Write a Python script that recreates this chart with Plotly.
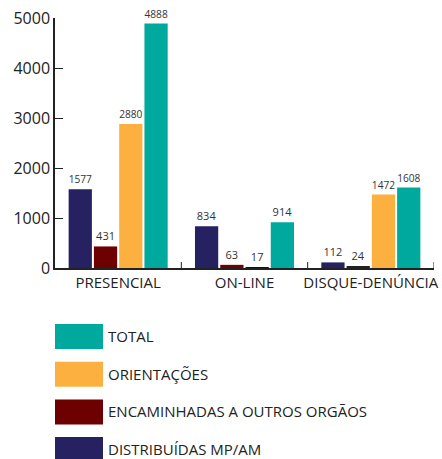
import plotly.graph_objects as go

categories = ["PRESENCIAL", "ON-LINE", "DISQUE-DENÚNCIA"]
series_names = ["DISTRIBUÍDAS MP/AM", "ENCAMINHADAS A OUTROS ORGÃOS", "ORIENTAÇÕES", "TOTAL"]
distribuidas = [1577, 834, 112]
encaminhadas = [431, 63, 24]
orientacoes = [2880, 17, 1472]
total = [4888, 914, 1608]
y_ticks = [0, 1000, 2000, 3000, 4000, 5000]

colors = {
    "DISTRIBUÍDAS MP/AM": ["#262262", "#262262", "#262262"],
    "ENCAMINHADAS A OUTROS ORGÃOS": ["#6D0000", "#6D0000", "#222222"],
    "ORIENTAÇÕES": ["#FBB040", "#111111", "#FBB040"],
    "TOTAL": ["#00A99D", "#00A99D", "#00A99D"],
}
legend_colors = {
    "DISTRIBUÍDAS MP/AM": "#262262",
    "ENCAMINHADAS A OUTROS ORGÃOS": "#6D0000",
    "ORIENTAÇÕES": "#FBB040",
    "TOTAL": "#00A99D",
}
values = [distribuidas, encaminhadas, orientacoes, total]

FONT = "Open Sans, Noto Sans, sans-serif"

fig = go.Figure()
for name, vals in zip(series_names, values):
    fig.add_trace(go.Bar(
        x=categories, y=vals, name=name,
        marker=dict(color=colors[name], line=dict(width=0)),
        text=[str(v) for v in vals], textposition="outside",
        textfont=dict(family=FONT, size=11, color="#333333"),
        cliponaxis=False, showlegend=False,
    ))

# legend drawn as large swatches
legend_order = ["TOTAL", "ORIENTAÇÕES", "ENCAMINHADAS A OUTROS ORGÃOS", "DISTRIBUÍDAS MP/AM"]
shapes = []
annotations = []
for i, name in enumerate(legend_order):
    top = 324 + i * 37.7
    bot = top + 25
    shapes.append(dict(type="rect", xref="paper", yref="paper",
                       x0=0.0, x1=(103 - 55) / 379.0,
                       y0=(268 - bot) / 250.0, y1=(268 - top) / 250.0,
                       fillcolor=legend_colors[name], line=dict(width=0)))
    annotations.append(dict(xref="paper", yref="paper",
                            x=(106 - 55) / 379.0, y=(268 - (top + 12)) / 250.0,
                            xanchor="left", yanchor="middle", showarrow=False,
                            text=name, font=dict(family=FONT, size=15, color="#222222")))

# category boundary ticks on x axis
for xb in [0.5, 1.5, 2.5]:
    shapes.append(dict(type="line", xref="x", yref="y", x0=xb, x1=xb, y0=0, y1=120,
                       line=dict(color="#222222", width=1)))

fig.update_layout(
    width=442, height=459,
    margin=dict(l=55, r=8, t=18, b=191),
    paper_bgcolor="white", plot_bgcolor="white",
    barmode="group", bargap=0.2, bargroupgap=0.08,
    shapes=shapes, annotations=annotations,
    font=dict(family=FONT, color="#222222"),
    xaxis=dict(showline=True, linecolor="#222222", linewidth=1.5, automargin=False,
               ticks="", showgrid=False, range=[-0.5, 2.5],
               tickfont=dict(family=FONT, size=15, color="#222222")),
    yaxis=dict(range=[0, 5000], tickvals=y_ticks, showline=True, linecolor="#222222",
               linewidth=1.5, ticks="inside", ticklen=8, tickcolor="#222222",
               showgrid=False, zeroline=False, automargin=False,
               tickfont=dict(family=FONT, size=16, color="#222222")),
)

fig.write_html("out.html", config={"displayModeBar": False},
               post_script="document.body.style.margin='0';")
